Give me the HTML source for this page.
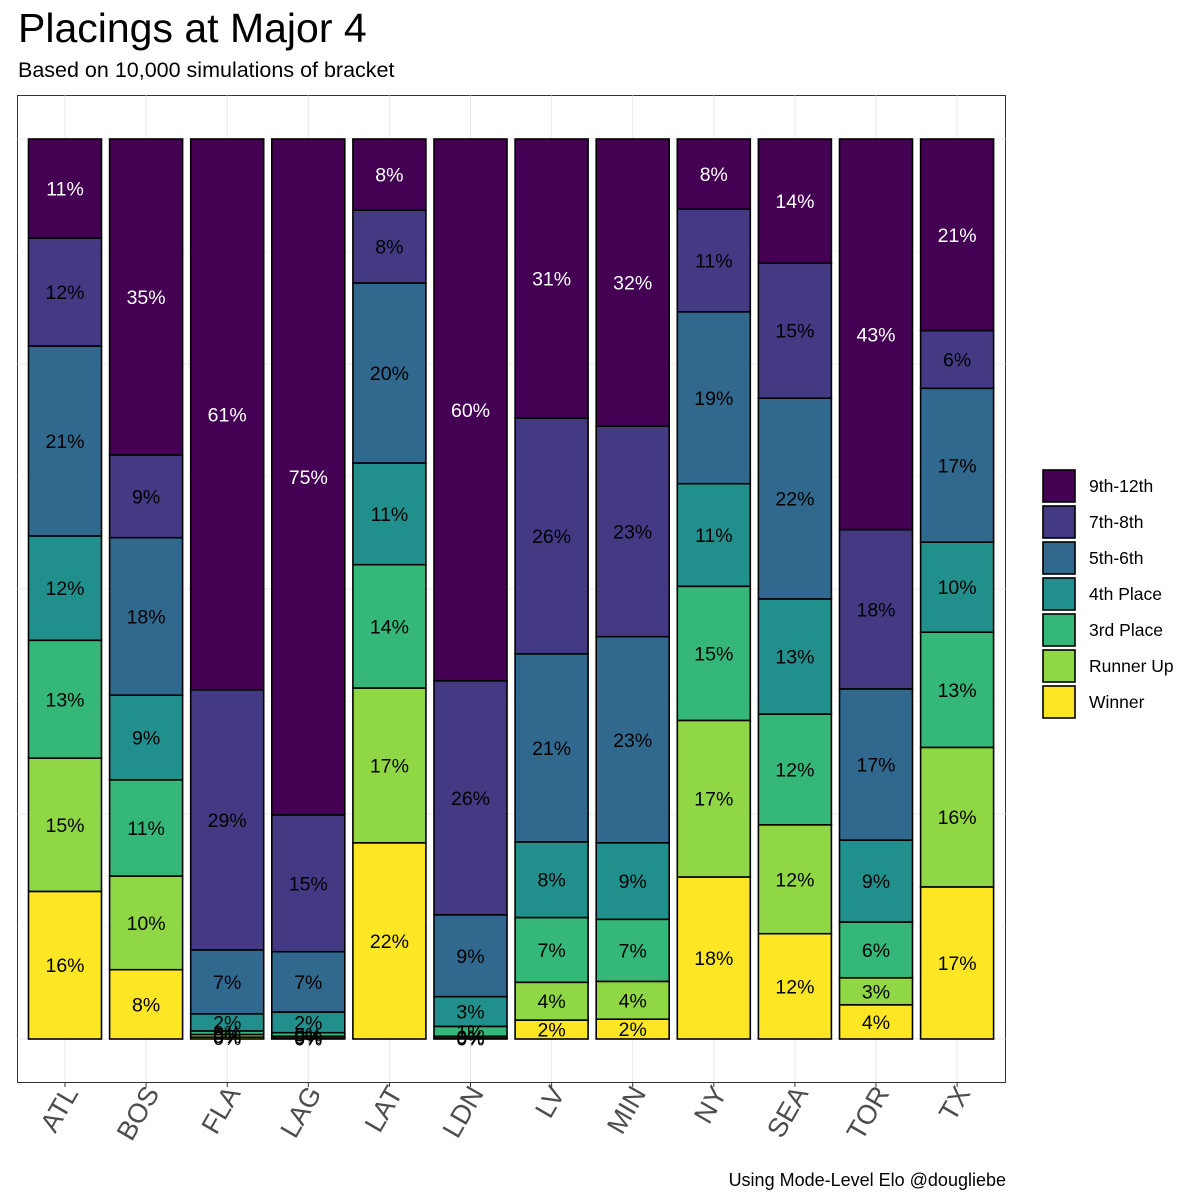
<!DOCTYPE html>
<html><head><meta charset="utf-8">
<style>
html,body{margin:0;padding:0;background:#fff;}
svg{display:block;font-family:"Liberation Sans",Arial,sans-serif;}
</style></head>
<body>
<svg id="chart" width="1200" height="1200" viewBox="0 0 1200 1200">
<text x="18" y="42" font-size="41" fill="#000">Placings at Major 4</text>
<text x="18" y="77" font-size="21.5" fill="#000">Based on 10,000 simulations of bracket</text>
<rect x="17.5" y="95.5" width="988" height="987" fill="#fff" stroke="#333" stroke-width="1"/>
<g id="grid"></g>
<g id="bars"></g>
<g id="xlabels"></g>
<g id="legend"></g>
<text x="1006" y="1186" font-size="18" text-anchor="end" fill="#000">Using Mode-Level Elo @dougliebe</text>
</svg>
<script>
const teams = ["ATL","BOS","FLA","LAG","LAT","LDN","LV","MIN","NY","SEA","TOR","TX"];
const categories = ["Winner","Runner Up","3rd Place","4th Place","5th-6th","7th-8th","9th-12th"];
const winner   = [0.164,0.077,0.002,0.001,0.218,0.001,0.021,0.022,0.180,0.117,0.038,0.169];
const runnerUp = [0.148,0.104,0.003,0.002,0.172,0.002,0.042,0.042,0.174,0.121,0.030,0.155];
const third    = [0.131,0.107,0.004,0.004,0.137,0.011,0.072,0.069,0.149,0.123,0.062,0.128];
const fourth   = [0.116,0.094,0.019,0.023,0.113,0.033,0.084,0.085,0.114,0.128,0.091,0.100];
const fifth    = [0.211,0.175,0.071,0.067,0.200,0.091,0.209,0.229,0.191,0.223,0.168,0.171];
const seventh  = [0.120,0.092,0.289,0.152,0.081,0.260,0.262,0.234,0.114,0.150,0.177,0.064];
const ninth    = [0.110,0.351,0.612,0.751,0.079,0.602,0.310,0.319,0.078,0.138,0.434,0.213];
const series = [winner,runnerUp,third,fourth,fifth,seventh,ninth];
const colors = ["#FDE725","#8FD744","#35B779","#21908C","#31688E","#443A83","#440154"];
const legendOrder = ["9th-12th","7th-8th","5th-6th","4th Place","3rd Place","Runner Up","Winner"];

const NS="http://www.w3.org/2000/svg";
const y0=1039, yTop=139;
function yScale(v){return y0-(y0-yTop)*v;}
const xStart=65, xStep=81.1, barW=73;
function xScale(i){return xStart+xStep*i;}
function mk(tag,attrs,parent){const e=document.createElementNS(NS,tag);for(const k in attrs)e.setAttribute(k,attrs[k]);parent.appendChild(e);return e;}

const grid=document.getElementById('grid');
for(let k=0;k<=8;k++){
  const gy=yScale(k/8);
  const l=mk('line',{x1:17.5,x2:1005.5,y1:gy,y2:gy,stroke:'#ebebeb','stroke-width':k%2?0.6:1.1},grid);
  
  
}
for(let i=0;i<teams.length;i++){
  const l=mk('line',{x1:xScale(i),x2:xScale(i),y1:95.5,y2:1082,stroke:'#ebebeb','stroke-width':1.1},grid);
  
  
  const tk=mk('line',{x1:xScale(i),x2:xScale(i),y1:1082,y2:1087,stroke:'#333','stroke-width':1},grid);
  
  
}

const bars=document.getElementById('bars');
teams.forEach((t,i)=>{
  let cum=0;
  const g=mk('g',{},bars);
  
  
  series.forEach((s,j)=>{
    const v=s[i];
    const yb=yScale(cum), yt=yScale(cum+v);
    const r=mk('rect',{x:xScale(i)-barW/2,y:yt,width:barW,height:Math.max(yb-yt,0.1),fill:colors[j],stroke:'#000','stroke-width':1.6},g);
    
    
    cum+=v;
  });
  cum=0;
  series.forEach((s,j)=>{
    const v=s[i];
    const yc=yScale(cum+v/2);
    const tx=mk('text',{x:xScale(i),y:yc+7,'font-size':19.5,'text-anchor':'middle',fill:j===6?'#fff':'#000'},g);
    tx.textContent=Math.round(v*100)+'%';
    
    
    cum+=v;
  });
});

const xl=document.getElementById('xlabels');
teams.forEach((t,i)=>{
  const x=xScale(i)+14, y=1093;
  const tx=mk('text',{x:x,y:y,'font-size':27,'text-anchor':'end',fill:'#4d4d4d',transform:`rotate(-60 ${x} ${y})`},xl);
  tx.textContent=t;
  
  
});

const lg=document.getElementById('legend');
legendOrder.forEach((name,k)=>{
  const j=categories.indexOf(name);
  const ky=470+k*36;
  const r=mk('rect',{x:1043,y:ky,width:32,height:32,fill:colors[j],stroke:'#000','stroke-width':1.6},lg);
  
  
  const tx=mk('text',{x:1089,y:ky+22,'font-size':17.5,fill:'#000'},lg);
  tx.textContent=name;
  
  
});
</script>
</body></html>
